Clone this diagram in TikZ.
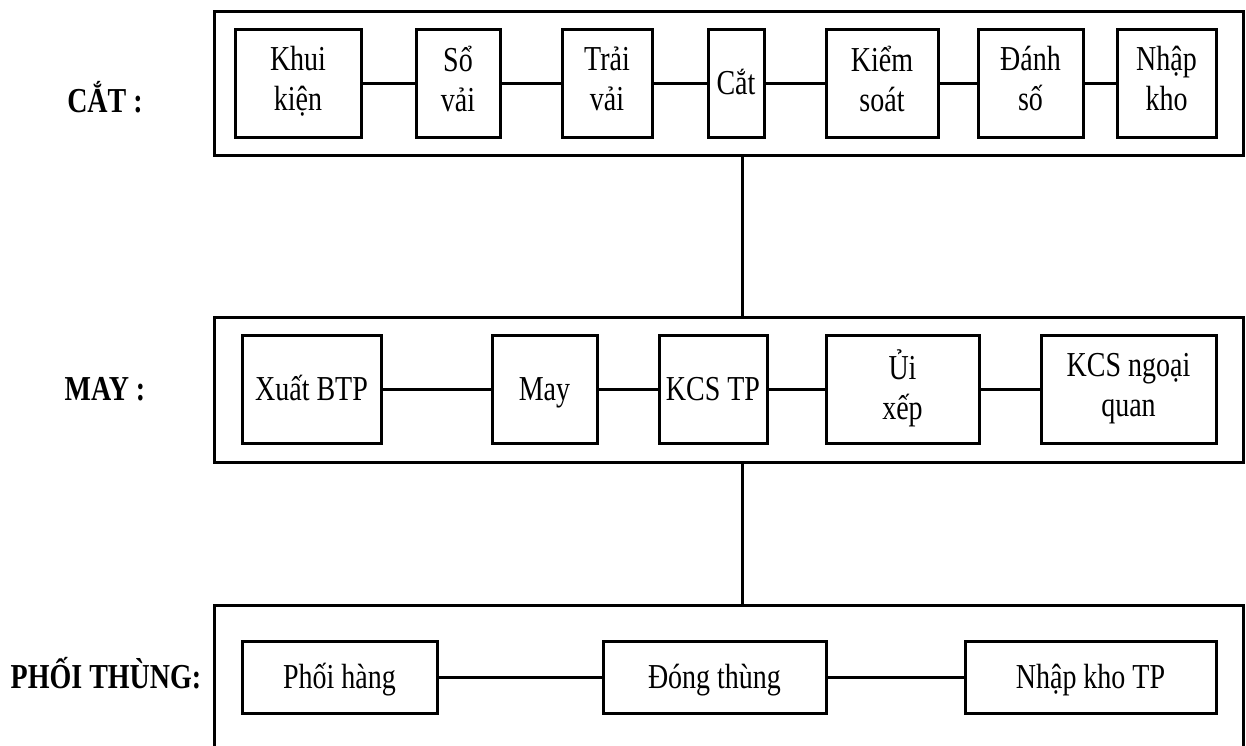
\documentclass[tikz,border=0pt]{standalone}
\usepackage{fontspec}
\setmainfont{Liberation Serif}[FakeStretch=0.8]
% invisible rule giving every text line the same height and depth
\newcommand\linestrut{\rule[-9pt]{0pt}{40pt}}
\begin{document}
\begin{tikzpicture}[x=1pt,y=-1pt,
  stepbox/.style={draw, line width=3pt, inner sep=0pt, align=center,
    minimum height=108pt, font=\fontsize{35}{40}\selectfont,
    execute at begin node=\linestrut, execute at end node=\linestrut},
  widebox/.style={stepbox, minimum height=72pt},
  outerbox/.style={draw, line width=3pt, inner sep=0pt, minimum width=1029pt},
  stagelabel/.style={anchor=base, inner sep=0pt, font=\fontsize{35}{40}\selectfont\bfseries},
  link/.style={line width=3pt}]
\useasboundingbox (0,0) rectangle (1246,745);
\clip (0,0) rectangle (1246,745);

% stage frames
\node[outerbox, minimum height=144pt] (cutframe) at (728.5,83) {};
\node[outerbox, minimum height=145pt] (sewframe) at (728.5,389.5) {};
\node[outerbox, minimum height=200pt] (packframe) at (728.5,705) {};
\coordinate (spine) at (742,0);

% stage names
\node[stagelabel] (lcut) at (105,112) {CẮT :};
\node[stagelabel] (lsew) at (105,400) {MAY :};
\node[stagelabel] (lpack) at (106,688) {PHỐI THÙNG:};

% cutting
\node[stepbox, minimum width=126pt] (c1) at (298,83) {Khui\\kiện};
\node[stepbox, minimum width=84pt]  (c2) at (458,83) {Sổ\\vải};
\node[stepbox, minimum width=90pt]  (c3) at (607,83) {Trải\\vải};
\node[stepbox, minimum width=56pt]  (c4) at (736,83) {Cắt};
\node[stepbox, minimum width=112pt] (c5) at (882,83) {Kiểm\\soát};
\node[stepbox, minimum width=105pt] (c6) at (1030.5,83) {Đánh\\số};
\node[stepbox, minimum width=99pt]  (c7) at (1166.5,83) {Nhập\\kho};

% sewing
\node[stepbox, minimum width=139pt] (s1) at (311.5,389) {Xuất BTP};
\node[stepbox, minimum width=105pt] (s2) at (544.5,389) {May};
\node[stepbox, minimum width=108pt] (s3) at (713,389) {KCS TP};
\node[stepbox, minimum width=153pt] (s4) at (902.5,389) {Ủi\\xếp};
\node[stepbox, minimum width=175pt] (s5) at (1128.5,389) {KCS ngoại\\quan};

% packing
\node[widebox, minimum width=195pt] (p1) at (339.5,677) {Phối hàng};
\node[widebox, minimum width=223pt] (p2) at (714.5,677) {Đóng thùng};
\node[widebox, minimum width=251pt] (p3) at (1090.5,677) {Nhập kho TP};

% links inside each stage
\foreach \a/\b in {c1/c2,c2/c3,c3/c4,c4/c5,c5/c6,c6/c7,
                   s1/s2,s2/s3,s3/s4,s4/s5,p1/p2,p2/p3}
  \draw[link] (\a.east) -- (\b.west);

% links between stages
\draw[link] (cutframe.south -| spine) -- (sewframe.north -| spine);
\draw[link] (sewframe.south -| spine) -- (packframe.north -| spine);
\end{tikzpicture}
\end{document}
